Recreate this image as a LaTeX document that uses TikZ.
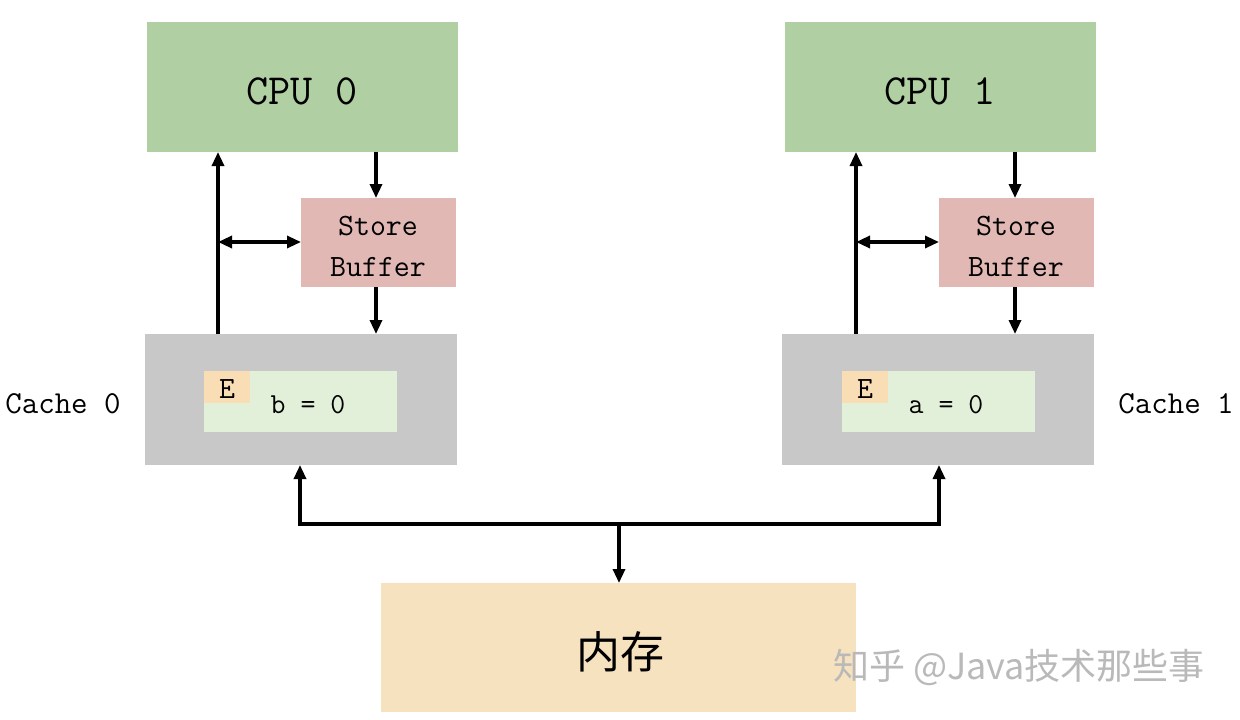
\documentclass[tikz,border=0pt]{standalone}
\usepackage{fontspec}
\newfontfamily\cjk{Noto Sans CJK SC}
\usetikzlibrary{arrows.meta}
\definecolor{cpugreen}{RGB}{176,207,162}
\definecolor{sbpink}{RGB}{226,184,181}
\definecolor{cachegray}{RGB}{200,200,200}
\definecolor{linegreen}{RGB}{226,239,217}
\definecolor{epeach}{RGB}{248,221,181}
\definecolor{mempeach}{RGB}{247,226,191}
\begin{document}
\begin{tikzpicture}[x=1pt,y=-1pt,
  box/.style={anchor=north west,inner sep=0pt,outer sep=0pt},
  conn/.style={line width=3.2pt,-{Triangle[length=14pt,width=12pt]}},
  dconn/.style={line width=3.2pt,{Triangle[length=14pt,width=12pt]}-{Triangle[length=14pt,width=12pt]}},
  tt/.style={font=\ttfamily\fontsize{31}{41}\selectfont}]
\useasboundingbox (0,0) rectangle (1240,720);
% boxes
\node[box,fill=cpugreen,minimum width=311pt,minimum height=130pt] (cpu0) at (147,22) {};
\node[box,fill=cpugreen,minimum width=311pt,minimum height=130pt] (cpu1) at (785,22) {};
\node[font=\ttfamily\fontsize{43}{46}\selectfont] (cpu0t) at (302,91) {CPU 0};
\node[font=\ttfamily\fontsize{43}{46}\selectfont] (cpu1t) at (940,91) {CPU 1};
\node[box,fill=sbpink,minimum width=155pt,minimum height=89pt] (sb0) at (301,198) {};
\node[box,fill=sbpink,minimum width=155pt,minimum height=89pt] (sb1) at (939,198) {};
\node[tt,align=center] (sb0t) at (378,246) {Store\\Buffer};
\node[tt,align=center] (sb1t) at (1016,246) {Store\\Buffer};
\node[box,fill=cachegray,minimum width=312pt,minimum height=131pt] (c0) at (145,334) {};
\node[box,fill=cachegray,minimum width=312pt,minimum height=131pt] (c1) at (782,334) {};
\node[box,fill=linegreen,minimum width=193pt,minimum height=61pt] (l0) at (204,371) {};
\node[box,fill=linegreen,minimum width=193pt,minimum height=61pt] (l1) at (842,371) {};
\node[box,fill=epeach,minimum width=46pt,minimum height=32pt] (e0) at (204,371) {};
\node[box,fill=epeach,minimum width=46pt,minimum height=32pt] (e1) at (842,371) {};
\node[tt] (e0t) at (227,389) {E};
\node[tt] (e1t) at (865,389) {E};
\node[font=\ttfamily\fontsize{29}{32}\selectfont] (v0) at (308,405) {b = 0};
\node[font=\ttfamily\fontsize{29}{32}\selectfont] (v1) at (946,405) {a = 0};
\node[font=\ttfamily\fontsize{32}{35}\selectfont] (lab0) at (63,404) {Cache 0};
\node[font=\ttfamily\fontsize{32}{35}\selectfont] (lab1) at (1176,404) {Cache 1};
\node[box,fill=mempeach,minimum width=475pt,minimum height=129pt] (mem) at (381,583) {};
\node[font=\cjk\fontsize{44}{48}\selectfont] (memt) at (620,652) {内存};
% connectors left
\coordinate (u0a) at (218,334);
\coordinate (u0b) at (218,152);
\coordinate (h0) at (218,242);
\draw[conn] (u0a) -- (u0b);
\draw[conn] (cpu0.south -| 376,0) -- (sb0.north -| 376,0);
\draw[conn] (sb0.south -| 376,0) -- (c0.north -| 376,0);
\draw[dconn] (h0) -- (sb0.west |- h0);
% connectors right
\coordinate (u1a) at (856,334);
\coordinate (u1b) at (856,152);
\coordinate (h1) at (856,242);
\draw[conn] (u1a) -- (u1b);
\draw[conn] (cpu1.south -| 1015,0) -- (sb1.north -| 1015,0);
\draw[conn] (sb1.south -| 1015,0) -- (c1.north -| 1015,0);
\draw[dconn] (h1) -- (sb1.west |- h1);
% bus
\coordinate (busL) at (300,524);
\coordinate (busR) at (939,524);
\coordinate (busM) at (619,524);
\draw[dconn,line join=miter] (c0.south -| busL) -- (busL) -- (busR) -- (c1.south -| busR);
\draw[conn] (busM) -- (mem.north -| busM);
% watermark
\node[font=\cjk\fontsize{36}{40}\selectfont,text=gray!55] (wm) at (1019,667) {知乎 @Java技术那些事};
\end{tikzpicture}
\end{document}
